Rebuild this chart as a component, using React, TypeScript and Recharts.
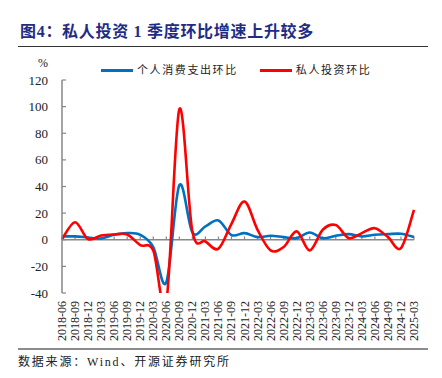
import { LineChart, Line, XAxis, YAxis, ReferenceLine } from 'recharts';

const quarters = [
  '2018-06', '2018-09', '2018-12', '2019-03', '2019-06', '2019-09', '2019-12',
  '2020-03', '2020-06', '2020-09', '2020-12', '2021-03', '2021-06', '2021-09',
  '2021-12', '2022-03', '2022-06', '2022-09', '2022-12', '2023-03', '2023-06',
  '2023-09', '2023-12', '2024-03', '2024-06', '2024-09', '2024-12', '2025-03',
];

// 个人消费支出环比 (%)
const consumption = [
  2.5, 2.5, 1.7, 1.0, 3.7, 5.0, 3.7,
  -5.5, -32, 41, 5.5, 10, 14.5, 3.5,
  5, 2, 3, 2, 1.2, 5.5, 1.2,
  3, 4.2, 2.5, 3.7, 4.2, 4.5, 2,
];

// 私人投资环比 (%)
const investment = [
  0.3, 13.2, 0.5, 3.2, 4, 4, -4,
  -8, -47, 98, 6.3, -1.2, -6.7, 12,
  28.7, 7.5, -8, -5.5, 6.3, -8, 7.5,
  11, 1.2, 5, 8.7, 2, -6.3, 22.5,
];

const yTicks = [-40, -20, 0, 20, 40, 60, 80, 100, 120];

const SERIES = [
  { key: 'consumption', name: '个人消费支出环比', color: '#0070C0' },
  { key: 'investment', name: '私人投资环比', color: '#FF0000' },
];

const chartData = quarters.map((q, i) => ({
  q,
  consumption: consumption[i],
  investment: investment[i],
}));

const SERIF = '"Liberation Serif", "Times New Roman", "Noto Sans CJK SC", serif';
const AXIS = '#878787';

// excel style smoothed line (catmull-rom as cubic bezier)
const excelSmooth = (context: any) => {
  let pts: number[][] = [];
  return {
    areaStart() {},
    areaEnd() {},
    lineStart() {
      pts = [];
    },
    point(x: number, y: number) {
      pts.push([+x, +y]);
    },
    lineEnd() {
      const n = pts.length;
      if (!n) return;
      context.moveTo(pts[0][0], pts[0][1]);
      for (let i = 0; i < n - 1; i++) {
        const p0 = pts[Math.max(i - 1, 0)];
        const p1 = pts[i];
        const p2 = pts[i + 1];
        const p3 = pts[Math.min(i + 2, n - 1)];
        context.bezierCurveTo(
          p1[0] + (p2[0] - p0[0]) / 6,
          p1[1] + (p2[1] - p0[1]) / 6,
          p2[0] - (p3[0] - p1[0]) / 6,
          p2[1] - (p3[1] - p1[1]) / 6,
          p2[0],
          p2[1]
        );
      }
    },
  };
};

const XTick = ({ x, y, payload }: any) => (
  <g transform={`translate(${x},${y})`}>
    <text
      transform="rotate(-90)"
      x={0}
      y={0}
      dy={4}
      textAnchor="end"
      fontSize={12}
      fontFamily={SERIF}
      fill="#222"
    >
      {payload.value}
    </text>
  </g>
);

export default function App() {
  return (
    <div style={{ position: 'absolute', left: 0, top: 0, width: 442, height: 378, background: '#fff', fontFamily: SERIF }}>
      <div
        style={{
          position: 'absolute',
          left: 20,
          top: 22,
          fontSize: 16,
          lineHeight: '20px',
          fontWeight: 'bold',
          letterSpacing: 0.7,
          color: '#1F2C85',
          whiteSpace: 'nowrap',
        }}
      >
        图4：私人投资 1 季度环比增速上升较多
      </div>
      <div style={{ position: 'absolute', left: 18, top: 46, width: 410, height: 1, background: '#333' }} />
      <div style={{ position: 'absolute', left: 38, top: 56, fontSize: 12, color: '#222' }}>%</div>

      <div style={{ position: 'absolute', left: 101, top: 62, display: 'flex', alignItems: 'center' }}>
        {SERIES.map((s, i) => (
          <div key={s.key} style={{ display: 'flex', alignItems: 'center', marginLeft: i ? 22 : 0 }}>
            <span style={{ display: 'inline-block', width: 32, height: 3, background: s.color, marginRight: 4 }} />
            <span style={{ fontSize: 11, lineHeight: '16px', letterSpacing: 1.6, color: '#222' }}>{s.name}</span>
          </div>
        ))}
      </div>

      <div style={{ position: 'absolute', left: 0, top: 0 }}>
        <LineChart
          width={442}
          height={378}
          data={chartData}
          margin={{ top: 80, right: 28, left: 12, bottom: 35 }}
        >
          <XAxis
            dataKey="q"
            interval={0}
            height={50}
            axisLine={false}
            tickLine={false}
            tick={<XTick />}
          />
          <YAxis
            domain={[-40, 120]}
            ticks={yTicks}
            allowDataOverflow
            width={50}
            stroke={AXIS}
            axisLine={{ stroke: AXIS, strokeWidth: 1.5 }}
            tickLine={{ stroke: AXIS, strokeWidth: 1.2 }}
            tickSize={-4}
            tickMargin={18}
            tick={{ fill: '#222', fontSize: 13, fontFamily: SERIF }}
          />
          <ReferenceLine y={0} stroke={AXIS} strokeWidth={1.5} />
          {quarters.map((q) => (
            <ReferenceLine
              key={q}
              segment={[{ x: q, y: 0 }, { x: q, y: 2.5 }]}
              stroke={AXIS}
              strokeWidth={1.2}
            />
          ))}
          {SERIES.map((s) => (
            <Line
              key={s.key}
              dataKey={s.key}
              name={s.name}
              type={excelSmooth as any}
              stroke={s.color}
              strokeWidth={2.6}
              dot={false}
              isAnimationActive={false}
            />
          ))}
        </LineChart>
      </div>

      <div style={{ position: 'absolute', left: 18, top: 348, width: 410, height: 2, background: '#8c8c8c' }} />
      <div style={{ position: 'absolute', left: 18, top: 354, fontSize: 12, lineHeight: '16px', letterSpacing: 1.8, color: '#222', whiteSpace: 'nowrap' }}>
        数据来源：Wind、开源证券研究所
      </div>
    </div>
  );
}
